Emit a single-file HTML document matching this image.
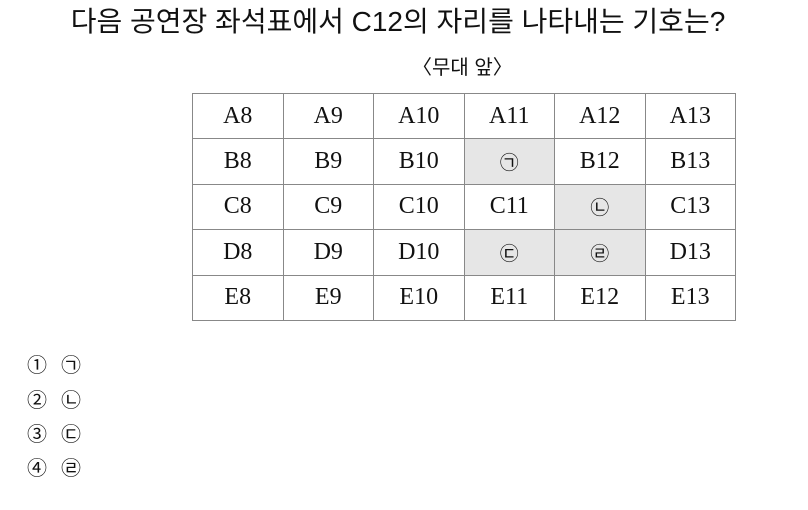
<!DOCTYPE html>
<html><head><meta charset="utf-8"><style>
body{margin:0;width:808px;height:510px;background:#fff;position:relative;overflow:hidden;font-family:"Liberation Sans","Noto Sans CJK KR",sans-serif;color:#111}
.t{position:absolute;left:0;width:796px;top:4px;text-align:center;font-size:28px;line-height:36px}
.s{position:absolute;left:412px;top:55px;font-size:20px;line-height:26px}
table{position:absolute;left:192px;top:93px;border-collapse:collapse}
td{border:1.5px solid #888;width:89.5px;height:44.4px;text-align:center;padding:0;font-family:"Liberation Serif","Noto Serif CJK SC",serif;font-size:24px}
td.g{background:#e6e6e6;font-family:"Liberation Sans","Noto Sans CJK KR",sans-serif;font-size:19px}
.o{position:absolute;left:27px;font-size:20px;line-height:24px}
.o span{margin-left:14px}
</style></head><body>
<div class="t">다음 공연장 좌석표에서 C12의 자리를 나타내는 기호는?</div>
<div class="s">〈무대 앞〉</div>
<table>
<tr><td>A8</td><td>A9</td><td>A10</td><td>A11</td><td>A12</td><td>A13</td></tr>
<tr><td>B8</td><td>B9</td><td>B10</td><td class="g">㉠</td><td>B12</td><td>B13</td></tr>
<tr><td>C8</td><td>C9</td><td>C10</td><td>C11</td><td class="g">㉡</td><td>C13</td></tr>
<tr><td>D8</td><td>D9</td><td>D10</td><td class="g">㉢</td><td class="g">㉣</td><td>D13</td></tr>
<tr><td>E8</td><td>E9</td><td>E10</td><td>E11</td><td>E12</td><td>E13</td></tr>
</table>
<div class="o" style="top:354px">①<span>㉠</span></div>
<div class="o" style="top:389px">②<span>㉡</span></div>
<div class="o" style="top:423px">③<span>㉢</span></div>
<div class="o" style="top:457px">④<span>㉣</span></div>
</body></html>
